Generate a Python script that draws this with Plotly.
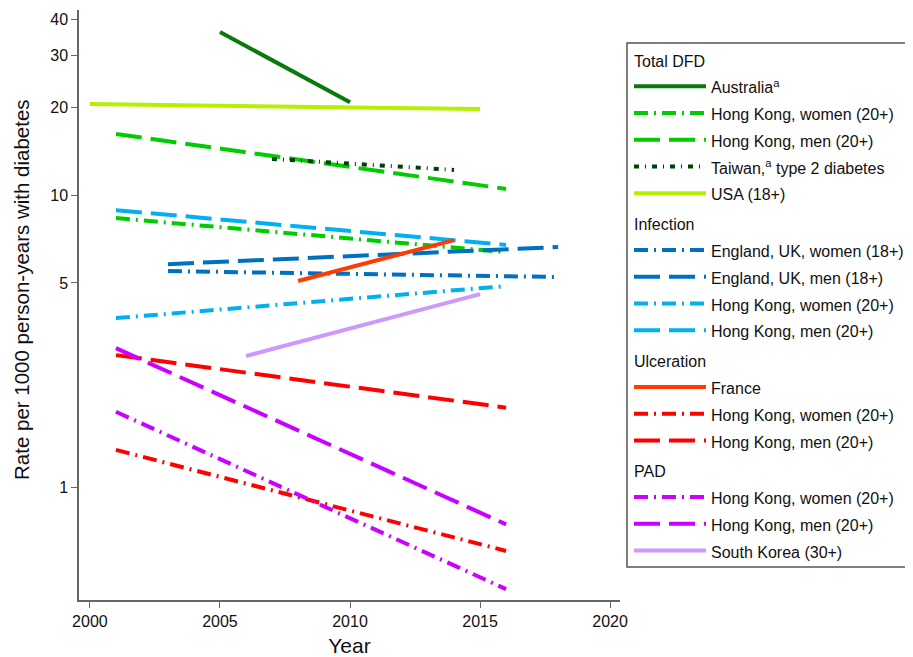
import plotly.graph_objects as go

# ---- data ----
years_australia = [2005, 2010]
vals_australia = [36.2, 20.8]
years_hk = [2001, 2016]
vals_dfd_hk_women = [8.34, 6.38]
vals_dfd_hk_men = [16.2, 10.5]
years_taiwan = [2007, 2014]
vals_taiwan = [13.3, 12.2]
years_usa = [2000, 2015]
vals_usa = [20.5, 19.7]

years_england = [2003, 2018]
vals_inf_eng_women = [5.49, 5.24]
vals_inf_eng_men = [5.80, 6.64]
vals_inf_hk_women = [3.79, 4.88]
vals_inf_hk_men = [8.88, 6.75]

years_france = [2008, 2014]
vals_france = [5.08, 7.01]
vals_ulc_hk_women = [1.34, 0.604]
vals_ulc_hk_men = [2.83, 1.87]

vals_pad_hk_women = [1.81, 0.447]
vals_pad_hk_men = [2.99, 0.745]
years_korea = [2006, 2015]
vals_korea = [2.81, 4.58]

y_tickvals = [1, 5, 10, 20, 30, 40]
x_tickvals = [2000, 2005, 2010, 2015, 2020]

DASHDOT = "14px,6px,2px,6px"
DASH = "26px,9px"
DOTDASH = "5px,6px,1px,6px"

series = [
    # group, title, name, x, y, color, dash
    ("dfd", "Total DFD", "Australia<sup>a</sup>", years_australia, vals_australia, "#087a0c", "solid"),
    ("dfd", "Total DFD", "Hong Kong, women (20+)", years_hk, vals_dfd_hk_women, "#00cc00", DASHDOT),
    ("dfd", "Total DFD", "Hong Kong, men (20+)", years_hk, vals_dfd_hk_men, "#00cc00", DASH),
    ("dfd", "Total DFD", "Taiwan,<sup>a</sup> type 2 diabetes", years_taiwan, vals_taiwan, "#00400a", DOTDASH),
    ("dfd", "Total DFD", "USA (18+)", years_usa, vals_usa, "#b4f000", "solid"),
    ("inf", "Infection", "England, UK, women (18+)", years_england, vals_inf_eng_women, "#0070c0", DASHDOT),
    ("inf", "Infection", "England, UK, men (18+)", years_england, vals_inf_eng_men, "#0070c0", DASH),
    ("inf", "Infection", "Hong Kong, women (20+)", years_hk, vals_inf_hk_women, "#00b0f0", DASHDOT),
    ("inf", "Infection", "Hong Kong, men (20+)", years_hk, vals_inf_hk_men, "#00b0f0", DASH),
    ("ulc", "Ulceration", "France", years_france, vals_france, "#ff3c00", "solid"),
    ("ulc", "Ulceration", "Hong Kong, women (20+)", years_hk, vals_ulc_hk_women, "#ff0000", DASHDOT),
    ("ulc", "Ulceration", "Hong Kong, men (20+)", years_hk, vals_ulc_hk_men, "#ff0000", DASH),
    ("pad", "PAD", "Hong Kong, women (20+)", years_hk, vals_pad_hk_women, "#cc00ff", DASHDOT),
    ("pad", "PAD", "Hong Kong, men (20+)", years_hk, vals_pad_hk_men, "#cc00ff", DASH),
    ("pad", "PAD", "South Korea (30+)", years_korea, vals_korea, "#cc99ff", "solid"),
]

FONT = "Liberation Sans, Arial, sans-serif"
LEG_ROW = 18.3  # legend font size controls row height; text itself drawn at 16px


def small(t):
    return '<span style="font-size:16px">' + t + "</span>"


fig = go.Figure()
seen = set()
for grp, title, name, xs, ys, color, dash in series:
    kw = {}
    if grp not in seen:
        kw["legendgrouptitle"] = dict(text=small(title), font=dict(size=LEG_ROW, color="#111"))
        seen.add(grp)
    fig.add_trace(go.Scatter(
        x=xs, y=ys, mode="lines", name=small(name), legendgroup=grp,
        line=dict(color=color, width=4, dash=dash), **kw))

# page has an 8px body margin: figure coordinates = page coordinates - 8
OFF = 8
W, H = 913 - OFF, 657 - OFF
L, R, T, B = 79 - OFF, 620 - OFF, 10 - OFF, 600 - OFF


def px_x(p):
    return (p - OFF - L) / (R - L)


def px_y(p):
    return (B - (p - OFF)) / (B - T)


fig.add_shape(type="rect", xref="paper", yref="paper",
              x0=px_x(627), x1=px_x(930), y0=px_y(567), y1=px_y(43),
              line=dict(color="#555", width=1.5), fillcolor="rgba(0,0,0,0)", layer="above")

fig.add_annotation(
    text="Rate per 1000 person-years with diabetes", textangle=-90,
    xref="paper", yref="paper", x=px_x(21), y=px_y(290),
    xanchor="center", yanchor="middle", showarrow=False,
    font=dict(size=20.5, color="#111"),
)

fig.update_layout(
    width=W, height=H,
    margin=dict(l=L, r=W - R, t=T, b=H - B, autoexpand=False),
    plot_bgcolor="white", paper_bgcolor="white",
    font=dict(family=FONT, size=16, color="#111"),
    showlegend=True,
    legend=dict(
        x=px_x(629), xanchor="left", y=px_y(41), yanchor="top",
        borderwidth=0, bgcolor="rgba(0,0,0,0)",
        font=dict(size=LEG_ROW, color="#111"),
        tracegroupgap=3, itemwidth=72, traceorder="grouped",
    ),
)
fig.update_xaxes(
    range=[1999.58, 2020.38], tickvals=x_tickvals, showgrid=False, zeroline=False,
    showline=True, linecolor="#666", linewidth=1.5, ticks="outside", ticklen=6,
    tickcolor="#666", tickfont=dict(size=16), automargin=False,
    title=dict(text="Year", font=dict(size=21), standoff=9),
)
fig.update_yaxes(
    type="log", range=[-0.387, 1.634], tickvals=y_tickvals, showgrid=False, zeroline=False,
    showline=True, linecolor="#666", linewidth=1.5, ticks="outside", ticklen=6,
    tickcolor="#666", tickfont=dict(size=16), automargin=False,
)
fig.write_html("out.html")
